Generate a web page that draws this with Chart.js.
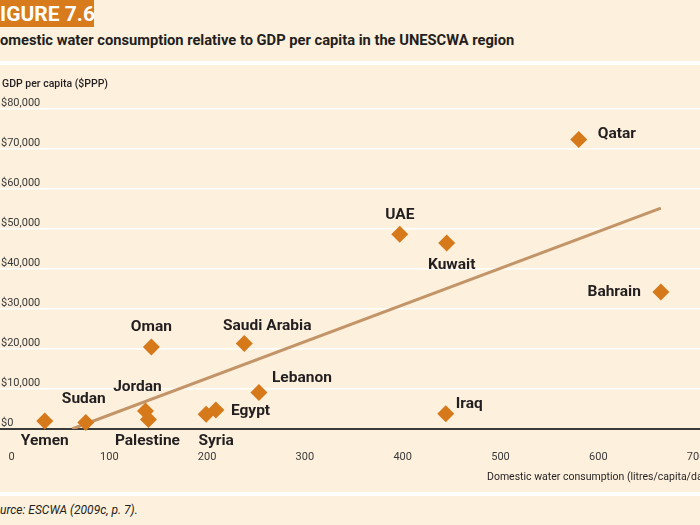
<!DOCTYPE html>
<html>
<head>
<meta charset="utf-8">
<script src="https://cdn.jsdelivr.net/npm/chart.js@4/dist/chart.umd.min.js"></script>
<style>
  html, body { margin: 0; padding: 0; }
  body { width: 700px; height: 525px; overflow: hidden; position: relative; background: #fdf0dd; font-family: Roboto, "Open Sans", sans-serif; color: #231f20; }
  .box { position: absolute; left: 0; top: 0; width: 94px; height: 27px; background: #d77b1d; }
  .box span { position: absolute; left: 0; top: 1px; color: #fff; font-weight: 700; font-size: 21px; line-height: 26px; white-space: nowrap; }
  .title { position: absolute; left: 0; top: 31px; font-weight: 700; font-size: 14.7px; white-space: nowrap; }
  .band { position: absolute; left: 0; width: 700px; height: 4px; background: #ffffff; }
  .ytitle { position: absolute; left: 2px; top: 77px; font-size: 10.5px; font-weight: 500; white-space: nowrap; }
  .xtitle { position: absolute; left: 487px; top: 470px; font-size: 10.5px; white-space: nowrap; }
  .source { position: absolute; left: 0; top: 503px; font-size: 12px; font-style: italic; white-space: nowrap; }
  canvas { position: absolute; left: 0; top: 65px; }
</style>
</head>
<body>
<div class="box"><span>IGURE 7.6</span></div>
<div class="title">omestic water consumption relative to GDP per capita in the UNESCWA region</div>
<div class="band" style="top:61px"></div>
<canvas id="c" width="700" height="427"></canvas>
<div class="ytitle">GDP per capita ($PPP)</div>
<div class="xtitle">Domestic water consumption (litres/capita/day)</div>
<div class="band" style="top:492px"></div>
<div class="source">urce: ESCWA (2009c, p. 7).</div>
<script>
// ---- data ----
const countries = ["Yemen", "Sudan", "Jordan", "Palestine", "Oman", "Syria", "Egypt", "Saudi Arabia", "Lebanon", "Iraq", "UAE", "Kuwait", "Qatar", "Bahrain"];
const waterUse  = [34, 76, 137, 140, 143, 199, 209, 238, 253, 444, 397, 445, 580, 664];
const gdpPerCap = [2000, 1600, 4500, 2400, 20500, 3700, 4750, 21400, 9100, 3800, 48700, 46500, 72400, 34250];
const trendX = [62, 664];
const trendY = [0, 55200];
const xTicks = [0, 100, 200, 300, 400, 500, 600, 700];
const yTicks = [0, 10000, 20000, 30000, 40000, 50000, 60000, 70000, 80000];

// ---- label placement (style only) ----
const labelStyle = {
  "Yemen":        { dx: 0,   dy: 20,  align: "center" },
  "Sudan":        { dx: -2,  dy: -23, align: "center" },
  "Jordan":       { dx: -8,  dy: -24, align: "center" },
  "Palestine":    { dx: -1,  dy: 22,  align: "center" },
  "Oman":         { dx: 0,   dy: -20, align: "center" },
  "Syria":        { dx: 10,  dy: 27,  align: "center" },
  "Egypt":        { dx: 15,  dy: 1,   align: "left" },
  "Saudi Arabia": { dx: 23,  dy: -17, align: "center" },
  "Lebanon":      { dx: 13,  dy: -14, align: "left" },
  "Iraq":         { dx: 10,  dy: -10, align: "left" },
  "UAE":          { dx: 0,   dy: -19, align: "center" },
  "Kuwait":       { dx: 5,   dy: 22,  align: "center" },
  "Qatar":        { dx: 19,  dy: -5,  align: "left" },
  "Bahrain":      { dx: -20, dy: 0,   align: "right" }
};

const points = countries.map((c, i) => ({ x: waterUse[i], y: gdpPerCap[i] }));
const trend = trendX.map((x, i) => ({ x: x, y: trendY[i] }));

const labelPlugin = {
  id: "countryLabels",
  afterDatasetsDraw(chart) {
    const meta = chart.getDatasetMeta(0);
    const ctx = chart.ctx;
    ctx.save();
    ctx.font = "700 15.5px Roboto, 'Open Sans', sans-serif";
    ctx.fillStyle = "#231f20";
    ctx.textBaseline = "middle";
    meta.data.forEach((el, i) => {
      const s = labelStyle[countries[i]];
      ctx.textAlign = s.align;
      ctx.fillText(countries[i], el.x + s.dx, el.y + s.dy);
    });
    ctx.restore();
  }
};

const fmt = v => "$" + v.toLocaleString("en-US");

new Chart(document.getElementById("c"), {
  type: "scatter",
  data: {
    datasets: [
      {
        label: "Countries",
        data: points,
        pointStyle: "rectRot",
        pointRadius: 8.5,
        pointHoverRadius: 8.5,
        backgroundColor: "#d5791b",
        borderWidth: 0,
        clip: false,
        order: 1
      },
      {
        label: "Trend",
        type: "line",
        data: trend,
        showLine: true,
        borderColor: "#c39467",
        borderWidth: 3,
        pointRadius: 0,
        fill: false,
        order: 2
      }
    ]
  },
  options: {
    responsive: false,
    animation: false,
    devicePixelRatio: 1,
    layout: { autoPadding: false, padding: { top: 44, left: 0, right: 0, bottom: 0 } },
    plugins: { legend: { display: false }, tooltip: { enabled: false } },
    scales: {
      x: {
        type: "linear",
        min: -11.76,
        max: 704,
        afterBuildTicks: s => { s.ticks = xTicks.map(v => ({ value: v })); },
        afterFit: s => { s.height = 63; s.paddingLeft = 0; s.paddingRight = 0; },
        grid: { display: false, drawTicks: false },
        border: { display: true, color: "#3a3a3a", width: 2 },
        ticks: { padding: 22, color: "#3a3a3a", font: { family: "Roboto", size: 11 }, maxRotation: 0, autoSkip: false }
      },
      y: {
        type: "linear",
        min: 0,
        max: 80000,
        afterBuildTicks: s => { s.ticks = yTicks.map(v => ({ value: v })); },
        afterFit: s => { s.width = 0; s.paddingTop = 0; s.paddingBottom = 0; },
        grid: {
          drawTicks: false,
          color: ctx => ctx.tick && ctx.tick.value === 0 ? "rgba(0,0,0,0)" : "#ffffff",
          lineWidth: 1.5
        },
        border: { display: false },
        ticks: { mirror: true, padding: 1, labelOffset: -6, color: "#3a3a3a", font: { family: "Roboto", size: 11 }, callback: v => fmt(v) }
      }
    }
  },
  plugins: [labelPlugin]
});
</script>
</body>
</html>
